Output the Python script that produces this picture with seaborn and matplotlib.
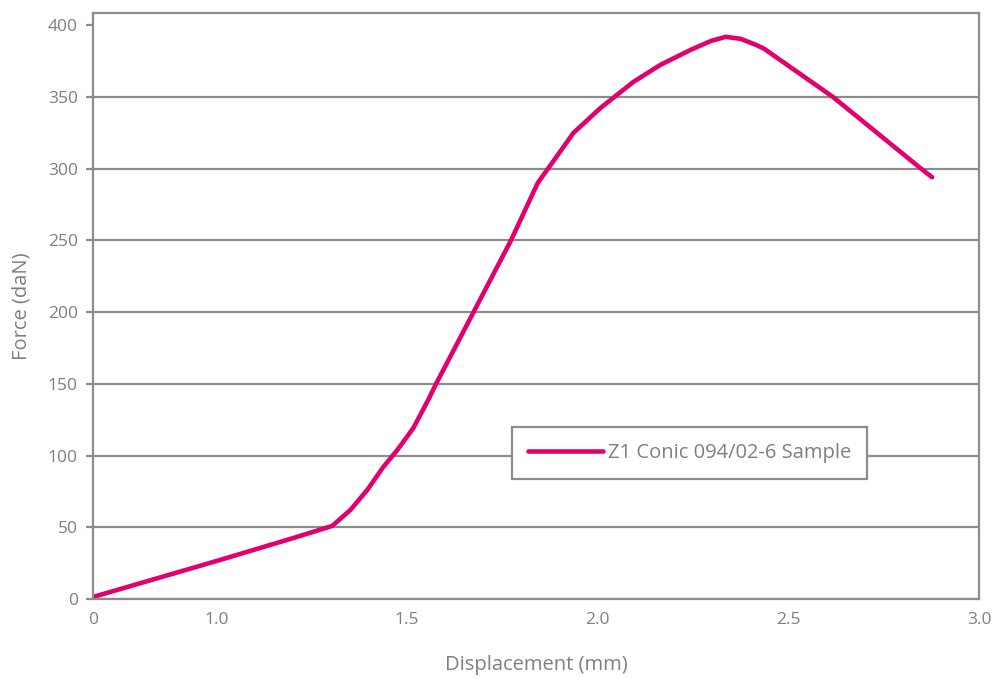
import matplotlib
matplotlib.use("Agg")
import matplotlib.pyplot as plt
import seaborn as sns

# values (axis starts at 0.677 on a scale shown as "0")
displacement = [0.677, 1.010, 1.202, 1.304, 1.352, 1.396, 1.438, 1.475, 1.517,
                1.556, 1.575, 1.675, 1.772, 1.843, 1.871, 1.937, 2.008, 2.094,
                2.165, 2.244, 2.297, 2.336, 2.375, 2.415, 2.436, 2.617, 2.848, 2.877]
force = [1.4, 27.2, 42.5, 50.9, 62.1, 76.0, 92.0, 103.9, 119.2,
         138.8, 149.2, 200.1, 249.5, 290.0, 300.4, 325.0, 342.4, 360.5,
         372.4, 382.8, 389.0, 391.9, 390.5, 386.3, 383.7, 350.0, 300.0, 294.0]
x_ticks = [0.677, 1.0, 1.5, 2.0, 2.5, 3.0]
x_tick_labels = ['0', '1.0', '1.5', '2.0', '2.5', '3.0']
y_ticks = [0, 50, 100, 150, 200, 250, 300, 350, 400]
series_name = 'Z1 Conic 094/02-6 Sample'

LINE = '#e3006d'
GRAY = '#8c8c8c'
TEXT = '#7f7f7f'

sns.set_style("white")
plt.rcParams['font.family'] = ['Open Sans', 'DejaVu Sans']

fig = plt.figure(figsize=(9.94, 6.79), dpi=100)
ax = fig.add_axes([93 / 994, 1 - 599 / 679, 886 / 994, 586 / 679])

sns.lineplot(x=displacement, y=force, color=LINE, linewidth=3.3, label=series_name, ax=ax)

ax.set_xlim(0.677, 3.0)
ax.set_ylim(0, 408.5)
ax.set_xticks(x_ticks)
ax.set_xticklabels(x_tick_labels)
ax.set_yticks(y_ticks)

ax.yaxis.grid(True, color=GRAY, linewidth=1.6)
ax.xaxis.grid(False)
ax.get_ygridlines()[-1].set_visible(False)
ax.yaxis.get_major_ticks()[-1].tick1line.set_visible(False)
ax.set_axisbelow(True)

for s in ax.spines.values():
    s.set_visible(True)
    s.set_color(GRAY)
    s.set_linewidth(1.6)

ax.tick_params(axis='y', length=5, width=1.6, color=GRAY, labelcolor=TEXT, labelsize=12.5, pad=6, left=True)
ax.tick_params(axis='x', length=0, labelcolor=TEXT, labelsize=12.5, pad=9)

ax.set_xlabel('Displacement (mm)', color=TEXT, fontsize=14.5, labelpad=20)
ax.set_ylabel('Force (daN)', color=TEXT, fontsize=14.5, labelpad=12)

leg = ax.legend(loc='upper left', bbox_to_anchor=((512 - 93) / 886, (599 - 427) / 586),
                borderaxespad=0, fontsize=14.5, frameon=True, fancybox=False,
                handlelength=3.7, handletextpad=0.25, borderpad=0.8, labelcolor=TEXT)
leg.get_frame().set_edgecolor(GRAY)
leg.get_frame().set_linewidth(1.6)
leg.get_frame().set_alpha(1)

fig.savefig('out.png', dpi=100)
